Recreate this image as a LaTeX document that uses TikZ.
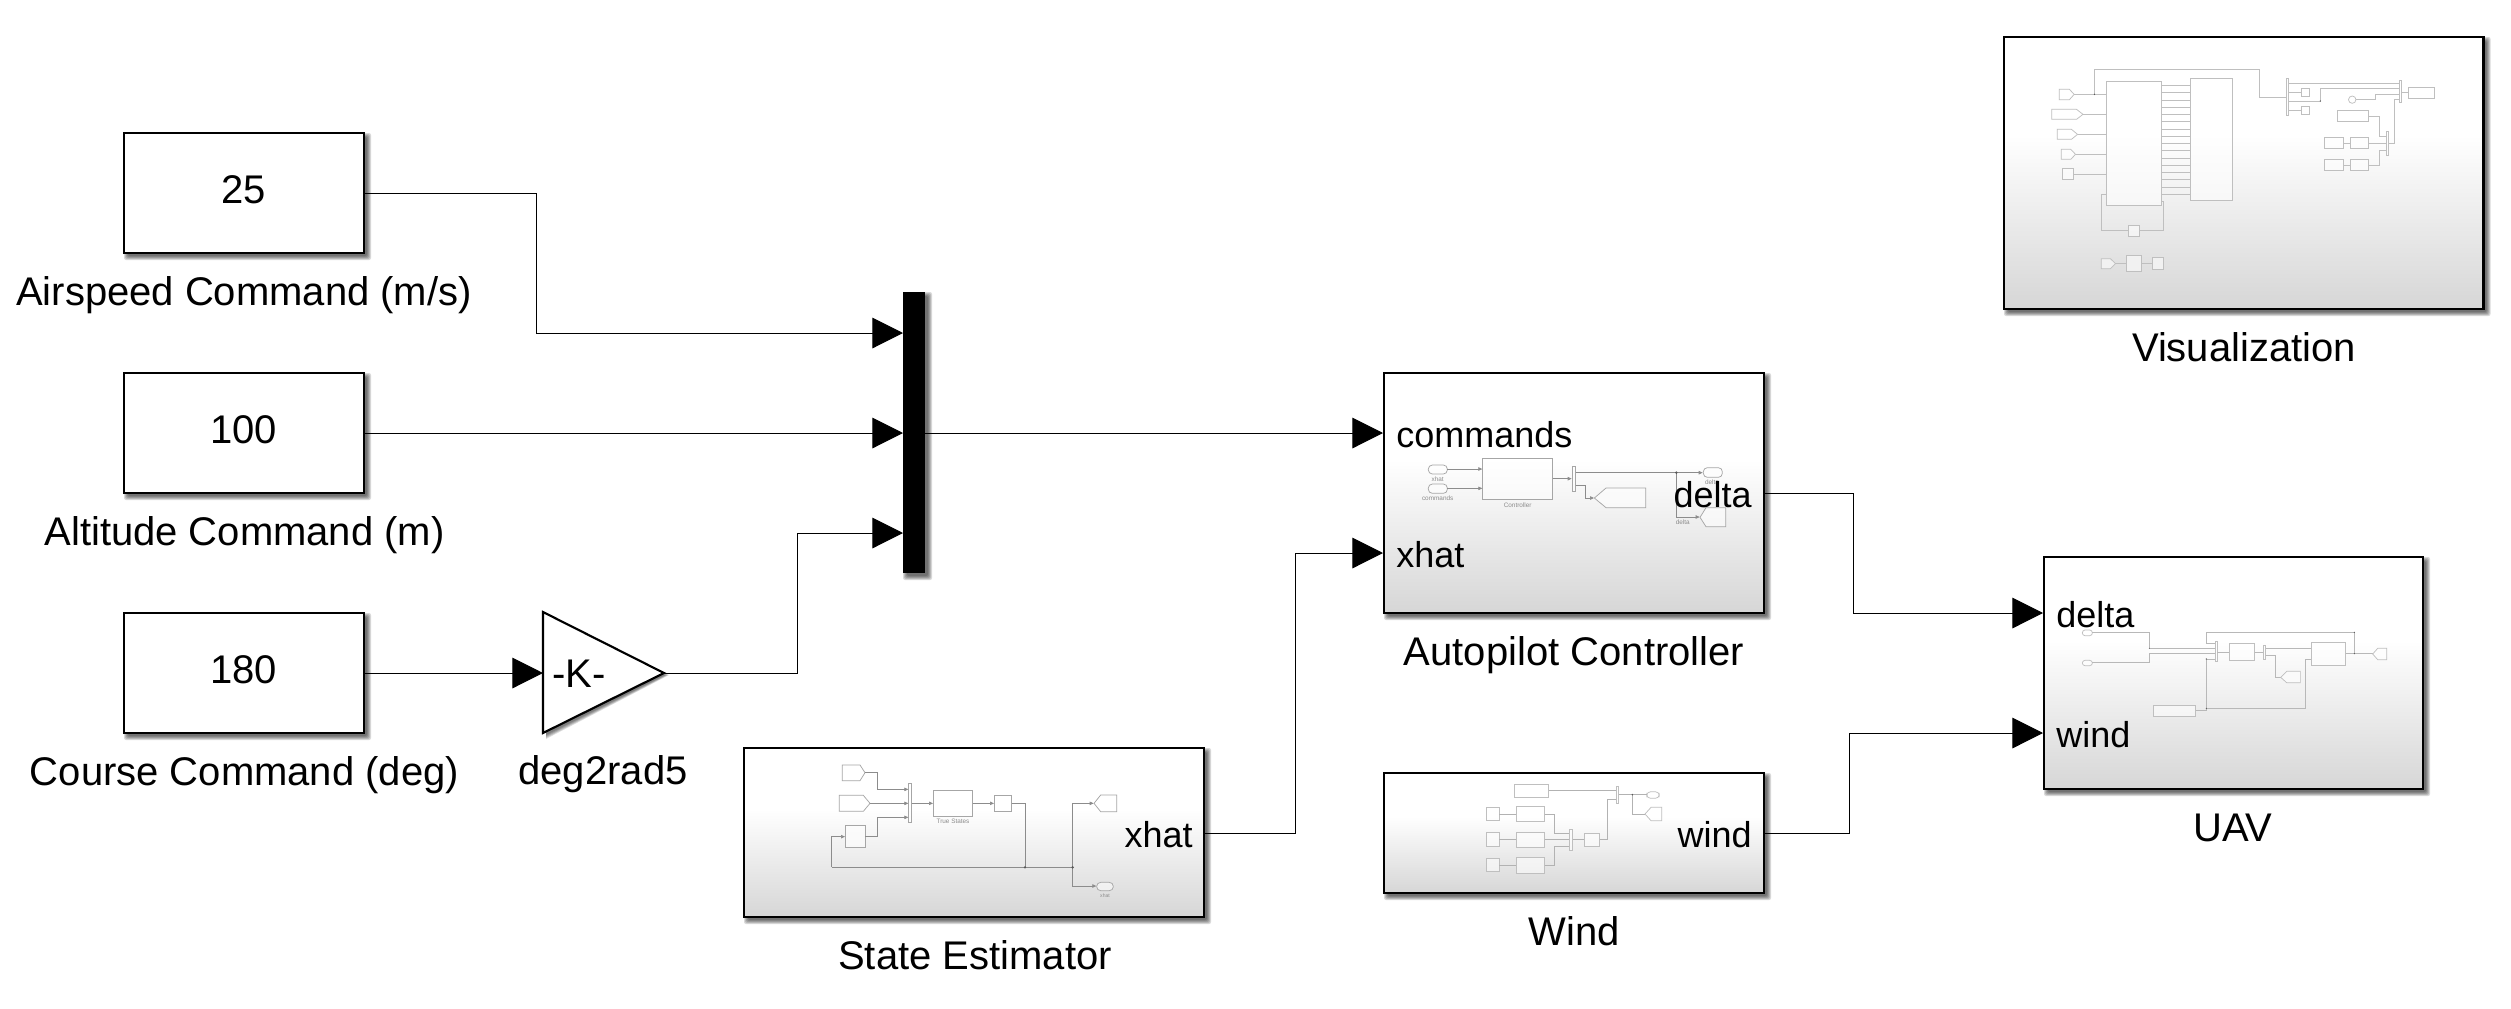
\documentclass[tikz,border=0pt]{standalone}
\usepackage{fontspec}
\setmainfont{Liberation Sans}
\usetikzlibrary{arrows.meta}
\pgfdeclareverticalshading{subsys}{100bp}{rgb(0bp)=(.84,.84,.84); rgb(25bp)=(.84,.84,.84); rgb(57bp)=(1,1,1); rgb(100bp)=(1,1,1)}
\newcommand{\softbox}[6]{%
  \foreach \s in {0,1,2,3,4}{\fill[black,opacity=.15,rounded corners=1.5pt] ({#3+4-\s},{#4+4-\s}) rectangle ({#5+3+\s},{#6+3+\s});}%
  \node[#2,minimum width={(#5-#3)*.75pt},minimum height={(#6-#4)*.75pt}] (#1) at ({(#3+#5)/2},{(#4+#6)/2}) {};}
\tikzset{
  x=.75pt,y=-.75pt,
  plain/.style={draw=black,line width=1.9pt,fill=white,inner sep=0pt,outer sep=0pt},
  subsystem/.style={draw=black,line width=1.9pt,shading=subsys,inner sep=0pt,outer sep=0pt},
  muxbar/.style={fill=black,inner sep=0pt,outer sep=0pt},
  wire/.style={line width=.75pt,draw=black},
  arrowwire/.style={wire,-{Triangle[length=23pt,width=23pt]}},
  lbl/.style={font=\fontsize{30}{36}\selectfont,inner sep=0pt,text=black},
  port/.style={font=\fontsize{27}{32}\selectfont,inner sep=0pt,text=black},
  tinytext/.style={font=\fontsize{4.8}{6}\selectfont,inner sep=0pt,text=black!45,anchor=center},
  thumb/.style={x=.25pt,y=-.25pt},
  mb/.style={draw=mbc,line width=.55pt,fill=white,fill opacity=.55},
  mw/.style={draw=mwc,line width=.5pt},
  ma/.style={mw,-{Triangle[length=3pt,width=2.6pt]}},
  dot/.style={fill=black!65,draw=none},
}
\colorlet{mbc}{black!25}\colorlet{mwc}{black!25}
\begin{document}
\begin{tikzpicture}
\path[use as bounding box] (0,0) rectangle (2511,1008);
% constant blocks
\softbox{cairspeed}{plain}{124}{133}{364}{253}
\softbox{caltitude}{plain}{124}{373}{364}{493}
\softbox{ccourse}{plain}{124}{613}{364}{733}
\node[lbl,anchor=base] (tairspeed) at (243.5,203) {25};
\node[lbl,anchor=base] (taltitude) at (243.5,443) {100};
\node[lbl,anchor=base] (tcourse) at (243.5,683) {180};
\node[lbl,anchor=base] (lairspeed) at (244,305) {Airspeed Command (m/s)};
\node[lbl,anchor=base] (laltitude) at (244.5,545) {Altitude Command (m)};
\node[lbl,anchor=base] (lcourse) at (244.5,785) {Course Command (deg)};
% gain
\foreach \s in {0,1,2,3,4}{\fill[black,opacity=.13] ({543+3},{612+4+\s}) -- ({664+1+\s},{673+2}) -- ({543+3},{733+2+\s}) -- cycle;}
\draw[line width=1.6pt,fill=white,line join=miter] (543,612) coordinate (gainin-top) -- (664,673) coordinate (gainout) -- (543,733) -- cycle;
\coordinate (gainin) at (543,673);
\node[lbl,anchor=base west] (tgain) at (552,687) {-K-};
\node[lbl,anchor=base] (lgain) at (603,784) {deg2rad5};
% mux
\softbox{mux}{muxbar}{903}{292}{925}{573}
\coordinate (muxa) at (903,333);
\coordinate (muxb) at (903,433);
\coordinate (muxc) at (903,533);
\coordinate (muxout) at (925,433);
% subsystems
\softbox{autopilot}{subsystem}{1384}{373}{1764}{613}
\softbox{estimator}{subsystem}{744}{748}{1204}{917}
\softbox{windb}{subsystem}{1384}{773}{1764}{893}
\softbox{uav}{subsystem}{2044}{557}{2423}{789}
\softbox{vis}{subsystem}{2004}{37}{2483.5}{309}
% ---------- thumbnail: Visualization
\begin{scope}[shift={(1980,20)},thumb,x=.254pt]
\draw[mb] (234,208)--(264,208)--(278,223)--(264,239)--(234,239)--cycle;
\draw[mb] (212,268)--(285,268)--(304,283)--(285,298)--(212,298)--cycle;
\draw[mb] (228,328)--(270,328)--(288,343)--(270,358)--(228,358)--cycle;
\draw[mb] (240,388)--(268,388)--(282,403)--(268,418)--(240,418)--cycle;
\draw[mb] (243,445) rectangle (277,478);
\draw[mb] (373,184) rectangle (535,556);
\draw[mb] (621,175) rectangle (745,542);
\draw[mw] (278,223)--(373,223) (304,283)--(373,283) (288,343)--(373,343) (282,403)--(373,403) (277,463)--(373,463);
\draw[mw] (338,223)--(338,149)--(825,149)--(825,233)--(905,233);
\fill[dot] (338,223) circle (2);
\foreach \k in {0,...,15}{\draw[mw] (535,{196+21.8*\k})--(621,{196+21.8*\k});}
\draw[mw] (373,523)--(358,523)--(358,631)--(438,631) (471,631)--(542,631)--(542,544)--(535,544);
\draw[mb] (438,616) rectangle (471,650);
\draw[mb] (358,716)--(385,716)--(400,731)--(385,746)--(358,746)--cycle;
\draw[mw] (400,731)--(432,731) (477,731)--(508,731);
\draw[mb] (432,706) rectangle (477,754);
\draw[mb] (508,713) rectangle (541,749);
\draw[mb] (905,175) rectangle (911,287);
\draw[mw] (911,191)--(1238,191) (911,217)--(948,217) (911,271)--(948,271) (911,243)--(1005,243)--(1005,205)--(1238,205);
\fill[dot] (1005,243) circle (2);
\draw[mb] (948,205) rectangle (971,230);
\draw[mb] (948,260) rectangle (971,284);
\draw[mb] (1099,239) circle (11);
\draw[mw] (1110,239)--(1167,239)--(1167,223)--(1238,223);
\draw[mb] (1238,181) rectangle (1244,247);
\draw[mw] (1244,217)--(1265,217) (1238,239)--(1222,239)--(1222,371)--(1207,371);
\draw[mb] (1265,201) rectangle (1343,234);
\draw[mb] (1055,271) rectangle (1148,305);
\draw[mw] (1148,289)--(1180,289)--(1180,349)--(1201,349);
\draw[mb] (1201,334) rectangle (1207,407);
\draw[mb] (1017,353) rectangle (1074,386);
\draw[mb] (1094,353) rectangle (1148,386);
\draw[mb] (1017,418) rectangle (1074,452);
\draw[mb] (1094,418) rectangle (1148,452);
\draw[mw] (1074,370)--(1094,370) (1148,370)--(1201,370) (1074,436)--(1094,436) (1148,436)--(1180,436)--(1180,392)--(1201,392);
\end{scope}
% ---------- thumbnail: Autopilot
\begin{scope}[shift={(1370,360)},thumb]
\colorlet{mbc}{black!35}\colorlet{mwc}{black!45}
\draw[mb,rounded corners=3pt] (175,315) rectangle (232,342);
\draw[mb,rounded corners=3pt] (175,372) rectangle (232,400);
\draw[mb] (337,295) rectangle (548,418);
\draw[mb] (606,320) rectangle (617,394);
\draw[mb,rounded corners=3pt] (1000,323) rectangle (1057,352);
\draw[mb] (1067,443)--(1008,443)--(990,472)--(1008,500)--(1067,500)--cycle;
\draw[mb] (827,384)--(708,384)--(673,414)--(708,443)--(827,443)--cycle;
\draw[ma] (232,327)--(337,327);
\draw[ma] (232,385)--(337,385);
\draw[ma] (548,356)--(605,356);
\draw[ma] (617,338)--(998,338);
\draw[ma] (919,338)--(919,471)--(989,471);
\draw[ma] (617,376)--(645,376)--(645,414)--(672,414);
\fill[dot] (919,338) circle (4);
\node[tinytext] (a1) at (203,358) {xhat};
\node[tinytext] (a2) at (203,416) {commands};
\node[tinytext] (a3) at (443,436) {Controller};
\node[tinytext] (a4) at (1026,368) {delta};
\node[tinytext] (a5) at (938,488) {delta};
\end{scope}
% ---------- thumbnail: UAV
\begin{scope}[shift={(2030,540)},thumb]
\colorlet{mbc}{black!25}\colorlet{mwc}{black!28}
\draw[mb,rounded corners=2pt] (157,270) rectangle (187,287);
\draw[mb,rounded corners=2pt] (157,361) rectangle (187,377);
\draw[mw] (187,277)--(358,277)--(358,325)--(555,325);
\draw[mw] (187,368)--(358,368)--(358,341)--(555,341);
\draw[mw] (973,341)--(973,277)--(530,277)--(530,309)--(555,309);
\draw[mb] (555,303) rectangle (562,365);
\draw[mb] (598,310) rectangle (674,361);
\draw[mw] (562,336)--(598,336) (674,336)--(700,336) (707,325)--(844,325) (947,341)--(1028,341);
\draw[mb] (700,316) rectangle (707,357);
\draw[mb] (844,307) rectangle (947,377);
\draw[mb] (1070,325)--(1043,325)--(1028,342)--(1043,359)--(1070,359)--cycle;
\draw[mw] (707,347)--(737,347)--(737,412)--(752,412);
\draw[mb] (811,394)--(770,394)--(752,412)--(770,428)--(811,428)--cycle;
\draw[mb] (370,496) rectangle (497,530);
\draw[mw] (497,511)--(529,511)--(529,357)--(555,357) (529,505)--(825,505)--(825,358)--(844,358);
\fill[dot] (973,341) circle (2);\fill[dot] (973,277) circle (2);\fill[dot] (529,505) circle (2);\fill[dot] (529,357) circle (2);\fill[dot] (358,325) circle (1.5);
\end{scope}
% ---------- thumbnail: State Estimator
\begin{scope}[shift={(730,730)},thumb]
\colorlet{mbc}{black!35}\colorlet{mwc}{black!45}
\draw[mb] (337,105)--(390,105)--(405,128)--(390,152)--(337,152)--cycle;
\draw[mb] (328,196)--(400,196)--(420,220)--(400,244)--(328,244)--cycle;
\draw[mb] (346,287) rectangle (405,352);
\draw[mb] (536,161) rectangle (545,278);
\draw[mb] (610,181) rectangle (728,260);
\draw[mb] (793,195) rectangle (845,245);
\draw[mb] (1160,195)--(1112,195)--(1092,220)--(1112,245)--(1160,245)--cycle;
\draw[mb,rounded corners=3pt] (1100,457) rectangle (1150,482);
\draw[ma] (405,128)--(442,128)--(442,178)--(535,178);
\draw[ma] (420,220)--(535,220);
\draw[ma] (405,320)--(442,320)--(442,262)--(535,262);
\draw[ma] (545,220)--(609,220);
\draw[ma] (728,220)--(792,220);
\draw[mw] (845,220)--(885,220)--(885,412);
\draw[mw] (1028,412)--(305,412);
\draw[ma] (305,412)--(305,320)--(345,320);
\draw[ma] (1028,412)--(1028,220)--(1091,220);
\draw[ma] (1028,412)--(1028,468)--(1099,468);
\fill[dot] (885,412) circle (4);\fill[dot] (1028,412) circle (4);
\node[tinytext] (e1) at (669,273) {True States};
\node[tinytext,font=\fontsize{3.8}{5}\selectfont] (e2) at (1125,496) {xhat};
\end{scope}
% ---------- thumbnail: Wind
\begin{scope}[shift={(1370,760)},thumb]
\colorlet{mbc}{black!25}\colorlet{mwc}{black!30}
\draw[mb] (433,73) rectangle (536,112);
\draw[mb] (738,78) rectangle (746,130);
\draw[mb,rounded corners=3pt] (830,95) rectangle (868,115);
\draw[mb] (875,142)--(843,142)--(825,162)--(843,182)--(875,182)--cycle;
\draw[mw] (536,91)--(738,91) (746,104)--(830,104) (787,104)--(787,162)--(825,162);
\fill[dot] (787,104) circle (2.5);
\draw[mw] (738,117)--(712,117)--(712,238)--(689,238);
\draw[mb] (643,219) rectangle (689,259);
\draw[mw] (606,238)--(643,238);
\draw[mb] (598,208) rectangle (606,270);
\draw[mb] (349,142) rectangle (388,182);
\draw[mb] (349,218) rectangle (388,258);
\draw[mb] (349,296) rectangle (388,335);
\draw[mb] (439,139) rectangle (524,185);
\draw[mb] (439,217) rectangle (524,261);
\draw[mb] (439,292) rectangle (524,340);
\draw[mw] (388,162)--(439,162) (388,238)--(439,238) (388,316)--(439,316);
\draw[mw] (524,162)--(554,162)--(554,220)--(598,220) (524,238)--(598,238) (524,316)--(554,316)--(554,258)--(598,258);
\end{scope}
% port labels
\node[port,anchor=base west] (pcommands) at (1396,447) {commands};
\node[port,anchor=base west] (pxhat) at (1396,567) {xhat};
\node[port,anchor=base east] (pdelta) at (1752,507) {delta};
\node[port,anchor=base west] (pudelta) at (2056,627) {delta};
\node[port,anchor=base west] (puwind) at (2056,747) {wind};
\node[port,anchor=base east] (pexhat) at (1193,847) {xhat};
\node[port,anchor=base east] (pwind) at (1752,847) {wind};
% block labels
\node[lbl,anchor=base] (lautopilot) at (1574,665) {Autopilot Controller};
\node[lbl,anchor=base] (lestimator) at (975,969) {State Estimator};
\node[lbl,anchor=base] (lwind) at (1574,945) {Wind};
\node[lbl,anchor=base] (luav) at (2233,841) {UAV};
\node[lbl,anchor=base] (lvis) at (2244,361) {Visualization};
% connector end points
\coordinate (apcmd) at (1383,433);
\coordinate (apxhat) at (1383,553);
\coordinate (apdelta) at (1764,493);
\coordinate (uavdelta) at (2043,613);
\coordinate (uavwind) at (2043,733);
\coordinate (windout) at (1764,833);
\coordinate (estout) at (1204,833);
% connectors
\draw[arrowwire] (cairspeed.east) -- (536,193) -- (536,333) -- (muxa);
\draw[arrowwire] (caltitude.east) -- (muxb);
\draw[arrowwire] (ccourse.east) -- (gainin);
\draw[arrowwire] (gainout) -- (797,673) -- (797,533) -- (muxc);
\draw[arrowwire] (muxout) -- (apcmd);
\draw[arrowwire] (estout) -- (1295,833) -- (1295,553) -- (apxhat);
\draw[arrowwire] (apdelta) -- (1853,493) -- (1853,613) -- (uavdelta);
\draw[arrowwire] (windout) -- (1849,833) -- (1849,733) -- (uavwind);
\end{tikzpicture}
\end{document}
